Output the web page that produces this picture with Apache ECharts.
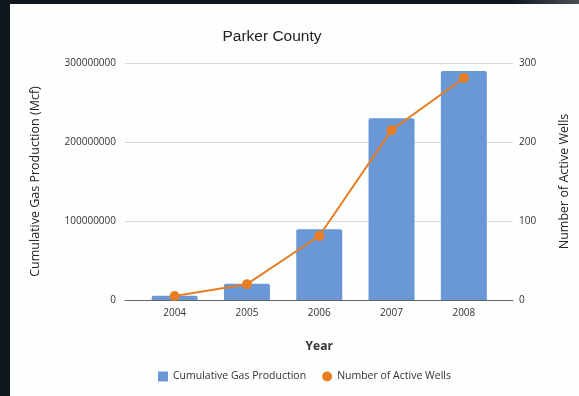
<!DOCTYPE html>
<html>
<head>
<meta charset="utf-8">
<script src="https://cdn.jsdelivr.net/npm/echarts@6/dist/echarts.min.js"></script>
<style>
  html, body { margin: 0; padding: 0; }
  body { width: 579px; height: 396px; position: relative; overflow: hidden;
         background: linear-gradient(to right, #0d171c 0%, #0d171c 88%, #4a4f53 100%); }
  #sheet { position: absolute; left: 10px; top: 4px; right: 0; bottom: 0; background: #fdfefe; }
  #chart { position: absolute; left: 0; top: 0; width: 579px; height: 396px; }
</style>
</head>
<body>
<div id="sheet"></div>
<div id="chart"></div>
<script>
// Parker County: cumulative gas production vs. number of active wells
const years = ['2004', '2005', '2006', '2007', '2008'];
const gasProduction = [5500000, 20500000, 89500000, 230000000, 290000000]; // Mcf
const activeWells = [5, 20, 81, 215, 281];
const gasTicks = [0, 300000000, 100000000];   // min, max, step
const wellTicks = [0, 300, 100];              // min, max, step

const FONT = 'Open Sans';
const BLUE = '#6a98d7';
const ORANGE = '#e77e24';
const plain = v => String(v);

const chart = echarts.init(document.getElementById('chart'), null, { renderer: 'canvas' });

chart.setOption({
  backgroundColor: 'transparent',
  animation: false,
  title: {
    text: 'Parker County',
    left: 267, top: 24, textAlign: 'center',
    textStyle: { fontFamily: 'Liberation Sans', fontSize: 15.5, fontWeight: 'normal', color: '#222' }
  },
  legend: {
    left: 153, top: 366,
    itemWidth: 10, itemHeight: 10, itemGap: 16,
    textStyle: { fontFamily: FONT, fontSize: 10.5, color: '#333' },
    data: [
      { name: 'Cumulative Gas Production', icon: 'rect' },
      { name: 'Number of Active Wells', icon: 'circle' }
    ]
  },
  grid: [
    // frame grid: gridlines, value axes and baseline
    { left: 125, right: 66, top: 63, bottom: 96 },
    // data grid: category slots for the bars and the line
    { left: 138.5, right: 79, top: 63, bottom: 96 }
  ],
  xAxis: [
    {
      gridIndex: 0, type: 'value', min: 0, max: 1,
      axisLine: { show: true, lineStyle: { color: '#666', width: 1 } },
      axisTick: { show: false }, axisLabel: { show: false }, splitLine: { show: false }
    },
    {
      gridIndex: 1, type: 'category', data: years,
      axisLine: { show: false }, axisTick: { show: false },
      axisLabel: { fontFamily: FONT, fontSize: 10, color: '#333', margin: 8 },
      name: 'Year', nameLocation: 'middle', nameGap: 41,
      nameTextStyle: { fontFamily: FONT, fontSize: 12, fontWeight: 'bold', color: '#333' }
    }
  ],
  yAxis: [
    {
      gridIndex: 0, type: 'value', position: 'left',
      min: gasTicks[0], max: gasTicks[1], interval: gasTicks[2],
      axisLine: { show: false }, axisTick: { show: false },
      axisLabel: { fontFamily: FONT, fontSize: 10, color: '#333', margin: 9, formatter: plain },
      splitLine: { lineStyle: { color: '#d9d9d9', width: 1 } },
      name: 'Cumulative Gas Production (Mcf)', nameLocation: 'middle', nameGap: 83,
      nameTextStyle: { fontFamily: FONT, fontSize: 12.5, color: '#222' }
    },
    {
      gridIndex: 0, type: 'value', position: 'right',
      min: wellTicks[0], max: wellTicks[1], interval: wellTicks[2],
      axisLine: { show: false }, axisTick: { show: false },
      axisLabel: { fontFamily: FONT, fontSize: 10, color: '#333', margin: 6, formatter: plain },
      splitLine: { show: false },
      name: 'Number of Active Wells', nameLocation: 'middle', nameGap: 45,
      nameTextStyle: { fontFamily: FONT, fontSize: 12.5, color: '#222' }
    },
    {
      gridIndex: 1, type: 'value', min: gasTicks[0], max: gasTicks[1], interval: gasTicks[2],
      show: false, splitLine: { show: false }
    },
    {
      gridIndex: 1, type: 'value', min: wellTicks[0], max: wellTicks[1], interval: wellTicks[2],
      show: false, splitLine: { show: false }
    }
  ],
  series: [
    {
      name: 'Cumulative Gas Production', type: 'bar',
      xAxisIndex: 1, yAxisIndex: 2,
      data: gasProduction, barWidth: 46,
      itemStyle: { color: BLUE, borderRadius: [2, 2, 0, 0] }
    },
    {
      name: 'Number of Active Wells', type: 'line',
      xAxisIndex: 1, yAxisIndex: 3,
      data: activeWells,
      symbol: 'circle', symbolSize: 10,
      lineStyle: { color: ORANGE, width: 2 },
      itemStyle: { color: ORANGE }
    }
  ]
});
</script>
</body>
</html>
